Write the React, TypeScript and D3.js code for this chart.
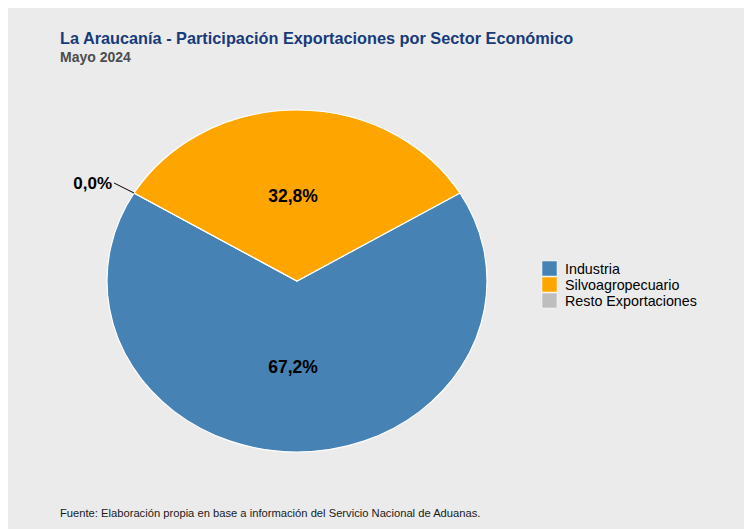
import * as d3 from 'd3';

const sectors = ['Industria', 'Silvoagropecuario', 'Resto Exportaciones'];
const shares = [67.2, 32.8, 0.0];
const colors = ['#4682B4', '#FFA500', '#BEBEBE'];
// draw order around the pie: Industria, Resto, Silvoagropecuario
const order = [0, 2, 1];

const W = 736;
const H = 521;
const cx = 289;
const cy = 273;
const ry = 171;
const rx = 190;

const fmt = (v: number) => v.toFixed(1).replace('.', ',') + '%';

export default function App() {
    // silvo slice centred on 12 o'clock
    const start = (shares[1] / 100) * Math.PI;
    const pie = d3
        .pie<number>()
        .sort(null)
        .value((i) => shares[i])
        .startAngle(start)
        .endAngle(start + 2 * Math.PI);
    const arcs = pie(order);
    const arc = d3.arc<d3.PieArcDatum<number>>().innerRadius(0).outerRadius(ry);
    const sx = rx / ry;

    return (
        <svg width={W} height={H} style={{ display: 'block', fontFamily: '"Liberation Sans", Arial, sans-serif' }}>
            <rect width={W} height={H} fill="#EBEBEB" />
            <text x={52} y={36} fontSize={16.3} fontWeight="bold" fill="#173a7a">
                La Araucanía - Participación Exportaciones por Sector Económico
            </text>
            <text x={52} y={54} fontSize={14} fontWeight="bold" fill="#4d4d4d">
                Mayo 2024
            </text>
            <g transform={`translate(${cx},${cy}) scale(${sx},1)`}>
                {arcs.map((a) => (
                    <path
                        key={a.data}
                        d={arc(a) || ''}
                        fill={colors[a.data]}
                        stroke="#ffffff"
                        strokeWidth={1.2}
                        vectorEffect="non-scaling-stroke"
                    />
                ))}
            </g>
            {arcs.map((a) => {
                const mid = (a.startAngle + a.endAngle) / 2;
                const v = shares[a.data];
                if (v > 1) {
                    const r = ry * 0.5;
                    const x = cx - 4 + Math.sin(mid) * r * sx;
                    const y = cy - Math.cos(mid) * r;
                    return (
                        <text key={a.data} x={x} y={y} textAnchor="middle" dy="0.35em" fontSize={17.5} fontWeight="bold" fill="#000">
                            {fmt(v)}
                        </text>
                    );
                }
                const x0 = cx + Math.sin(mid) * ry * sx;
                const y0 = cy - Math.cos(mid) * ry;
                const x1 = x0 - 20;
                const y1 = y0 - 10;
                return (
                    <g key={a.data}>
                        <line x1={x0} y1={y0} x2={x1} y2={y1} stroke="#000" strokeWidth={1} />
                        <text x={x1 - 2} y={y1} dy="0.35em" textAnchor="end" fontSize={17} fontWeight="bold" fill="#000">
                            {fmt(v)}
                        </text>
                    </g>
                );
            })}
            <g transform="translate(534,253)">
                {sectors.map((s, i) => (
                    <g key={s} transform={`translate(0,${i * 16})`}>
                        <rect width={15} height={15} fill={colors[i]} stroke="#ffffff" strokeWidth={0.5} />
                        <text x={23} y={7.5} dy="0.35em" fontSize={14.3} fill="#000">
                            {s}
                        </text>
                    </g>
                ))}
            </g>
            <text x={52} y={509} fontSize={11.2} fill="#1a1a1a">
                Fuente: Elaboración propia en base a información del Servicio Nacional de Aduanas.
            </text>
        </svg>
    );
}
